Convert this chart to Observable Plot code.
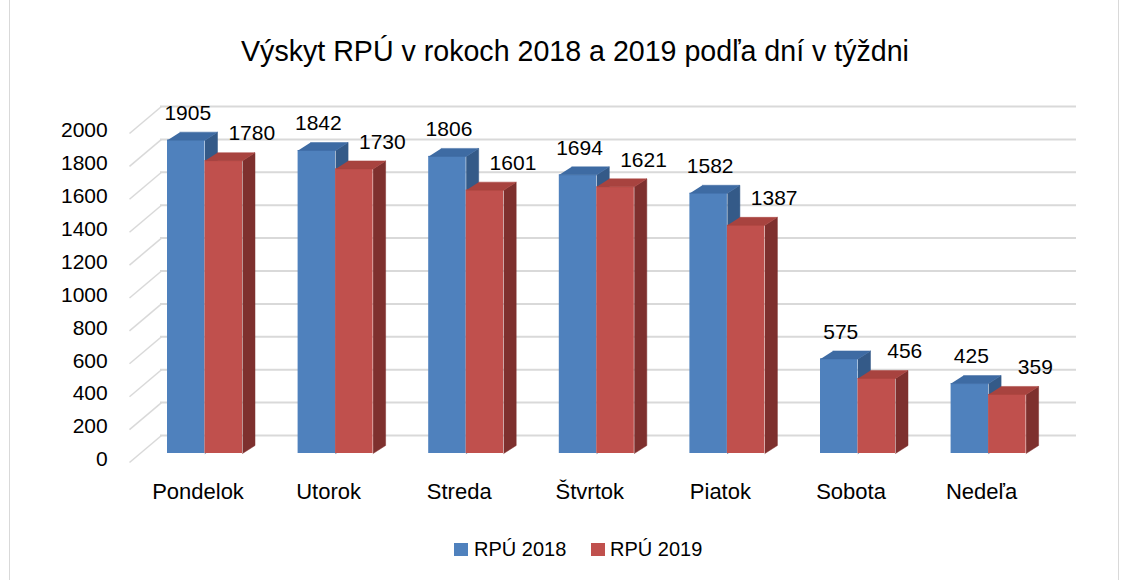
<!DOCTYPE html>
<html>
<head>
<meta charset="utf-8">
<script src="https://cdn.jsdelivr.net/npm/d3@7"></script>
<script src="https://cdn.jsdelivr.net/npm/@observablehq/plot@0.6"></script>
<style>
  html, body { margin: 0; padding: 0; background: #fff; width: 1128px; height: 580px; overflow: hidden; position: relative; font-family: "Liberation Sans", Arial, sans-serif; color: #000; }
  #frame { position: absolute; left: 9px; top: -1px; width: 1110px; height: 600px; border: 1px solid #d9d9d9; box-sizing: border-box; }
  #title { position: absolute; top: 37px; left: 575px; transform: translateX(-50%); white-space: nowrap; font-size: 28.6px; line-height: 28px; }
  #chart { position: absolute; left: 0; top: 90px; }
  .leg { position: absolute; font-size: 20px; line-height: 20px; top: 539px; white-space: nowrap; }
  .sw { position: absolute; width: 14px; height: 13px; top: 543px; }
</style>
</head>
<body>
<div id="frame"></div>
<div id="title"></div>
<div id="chart"></div>
<div id="legend"></div>
<script>
// ---- data ----
const days = ["Pondelok", "Utorok", "Streda", "Štvrtok", "Piatok", "Sobota", "Nedeľa"];
const rpu2018 = [1905, 1842, 1806, 1694, 1582, 575, 425];
const rpu2019 = [1780, 1730, 1601, 1621, 1387, 456, 359];
const seriesNames = ["RPÚ 2018", "RPÚ 2019"];
const yTicks = [0, 200, 400, 600, 800, 1000, 1200, 1400, 1600, 1800, 2000];
const titleText = "Výskyt RPÚ v rokoch 2018 a 2019 podľa dní v týždni";

// ---- styling / layout ----
const colors = {
  front: ["#4F81BD", "#C0504D"],
  top:   ["#3E6BA3", "#A8433F"],
  side:  ["#345A88", "#7E302E"]
};
const W = 1128, H = 420, mTop = 40, mBottom = 51;
const xRange = [139.2, 1053.4];              // pixel range for domain [-0.5, 6.5]
const pxX = (xRange[1] - xRange[0]) / 7;     // px per category
const pxY = (H - mTop - mBottom) / 2000;     // px per unit
const hx = p => p / pxX;                     // px -> x units
const hy = p => p / pxY;                     // px -> y units
const xAt = p => -0.5 + (p - xRange[0]) / pxX;

const barW = hx(37.5), depX = hx(12.5), depY = hy(8);

// bars table
const bars = [];
days.forEach((d, i) => {
  [rpu2018[i], rpu2019[i]].forEach((v, s) => {
    const x1 = i + (s - 1) * barW;
    bars.push({day: d, i, s, v, x1, x2: x1 + barW});
  });
});
const faces = [];
bars.forEach((b, k) => {
  faces.push({id: "t" + k, s: b.s, kind: "top", x: b.x1, y: b.v});
  faces.push({id: "t" + k, s: b.s, kind: "top", x: b.x2, y: b.v});
  faces.push({id: "t" + k, s: b.s, kind: "top", x: b.x2 + depX, y: b.v + depY});
  faces.push({id: "t" + k, s: b.s, kind: "top", x: b.x1 + depX, y: b.v + depY});
  faces.push({id: "r" + k, s: b.s, kind: "side", x: b.x2, y: 0});
  faces.push({id: "r" + k, s: b.s, kind: "side", x: b.x2 + depX, y: depY});
  faces.push({id: "r" + k, s: b.s, kind: "side", x: b.x2 + depX, y: b.v + depY});
  faces.push({id: "r" + k, s: b.s, kind: "side", x: b.x2, y: b.v});
});

const marks = [];
// back-wall gridlines
marks.push(Plot.link(yTicks, {x1: xAt(129), y1: t => t - hy(3), x2: xAt(161), y2: t => t + hy(24), stroke: "#d9d9d9", strokeWidth: 1.5}));
marks.push(Plot.ruleY(yTicks, {x1: xAt(160), x2: xAt(1076), y: t => t + hy(24), stroke: "#d9d9d9", strokeWidth: 2}));
// bars by series (blue first)
[0, 1].forEach(s => {
  const bs = bars.filter(b => b.s === s);
  marks.push(Plot.rectY(bs, {x1: "x1", x2: "x2", y1: 0, y2: "v", fill: colors.front[s], dy: -6}));
  marks.push(Plot.line(faces.filter(f => f.s === s && f.kind === "side"), {x: "x", y: "y", z: "id", fill: colors.side[s], stroke: colors.side[s], strokeWidth: 0.5, dy: -6}));
  marks.push(Plot.line(faces.filter(f => f.s === s && f.kind === "top"), {x: "x", y: "y", z: "id", fill: colors.top[s], stroke: colors.top[s], strokeWidth: 0.5, dy: -6}));
});
// value labels
marks.push(Plot.text(bars, {
  x: b => (b.x1 + b.x2) / 2 + (b.s === 0 ? hx(1.5) : hx(28)),
  y: "v", text: b => String(b.v), dy: -33, fontSize: 21, fill: "#000"
}));
// axes
marks.push(Plot.axisY({ticks: yTicks, tickFormat: d => String(d), tickSize: 0, tickPadding: 32, fontSize: 21, fill: "#000"}));
marks.push(Plot.axisX({ticks: d3.range(days.length), tickFormat: i => days[i], tickSize: 0, tickPadding: 24, dx: -7, fontSize: 22, fill: "#000"}));

const plot = Plot.plot({
  width: W, height: H,
  marginTop: mTop, marginBottom: mBottom,
  marginLeft: xRange[0], marginRight: W - xRange[1],
  x: {type: "linear", domain: [-0.5, 6.5], axis: null},
  y: {domain: [0, 2000], axis: null},
  style: {fontFamily: "'Liberation Sans', Arial, sans-serif", fontSize: "21px", color: "#000", background: "transparent", overflow: "visible"},
  marks
});
document.getElementById("chart").appendChild(plot);
document.getElementById("title").textContent = titleText;

// legend
const leg = document.getElementById("legend");
const legX = [[454, 474], [591, 610]];
seriesNames.forEach((n, s) => {
  const sw = document.createElement("div");
  sw.className = "sw"; sw.style.left = legX[s][0] + "px"; sw.style.background = colors.front[s];
  const tx = document.createElement("div");
  tx.className = "leg"; tx.style.left = legX[s][1] + "px"; tx.textContent = n;
  leg.appendChild(sw); leg.appendChild(tx);
});
</script>
</body>
</html>
